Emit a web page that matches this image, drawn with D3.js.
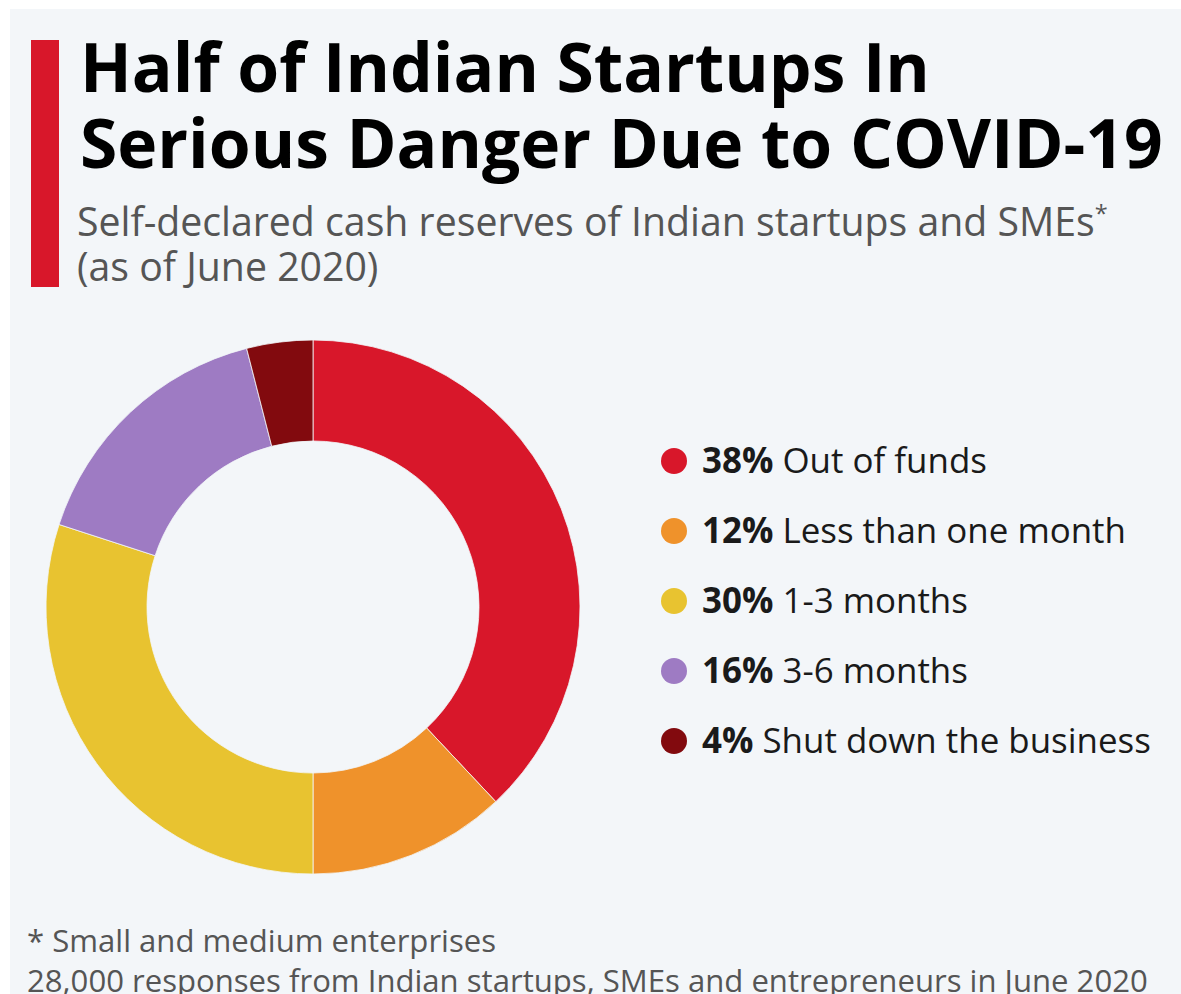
<!DOCTYPE html>
<html><head><meta charset="utf-8">
<script src="https://cdn.jsdelivr.net/npm/d3@7"></script>
<style>
html,body{margin:0;padding:0;background:#fff;}
svg text{font-family:"Open Sans",sans-serif;}
</style></head>
<body>
<svg id="chart" width="1181" height="994"></svg>
<script>
const categories = ["Out of funds","Less than one month","1-3 months","3-6 months","Shut down the business"];
const values = [38, 12, 30, 16, 4];
const colors = ["#d8172a","#ef922b","#e8c330","#9e7bc3","#820a0e"];
const titleLines = ["Half of Indian Startups In","Serious Danger Due to COVID-19"];
const subtitleLines = ["Self-declared cash reserves of Indian startups and SMEs","(as of June 2020)"];
const footerLines = ["* Small and medium enterprises","28,000 responses from Indian startups, SMEs and entrepreneurs in June 2020"];

const svg = d3.select("#chart");
svg.append("rect").attr("x",10).attr("y",9).attr("width",1171).attr("height",985).attr("fill","#f3f6f9");
svg.append("rect").attr("x",31).attr("y",40).attr("width",28).attr("height",247).attr("fill","#d8172a");

function fit(sel, target){
  const w = sel.node().getComputedTextLength();
  const fs = parseFloat(sel.attr("font-size"));
  sel.attr("font-size", fs*target/w);
}

const t1 = svg.append("text").attr("x",80).attr("y",92).attr("font-size",60).attr("font-weight",700).attr("fill","#000").text(titleLines[0]);
const t2 = svg.append("text").attr("x",80).attr("y",168).attr("font-size",60).attr("font-weight",700).attr("fill","#000").text(titleLines[1]);
fit(t2, 1083);
t1.attr("font-size", t2.attr("font-size"));

const s1 = svg.append("text").attr("x",77).attr("y",236).attr("font-size",30).attr("fill","#555").text(subtitleLines[0]);
fit(s1, 1018);
const sfs = parseFloat(s1.attr("font-size"));
s1.append("tspan").attr("font-size",sfs*0.6).attr("dy",-sfs*0.35).text("*");
svg.append("text").attr("x",77).attr("y",281).attr("font-size",sfs).attr("fill","#555").text(subtitleLines[1]);

// donut
const cx = 313, cy = 607, rOut = 267, rIn = 166;
const pie = d3.pie().sort(null).value(d=>d.v);
const arc = d3.arc().innerRadius(rIn).outerRadius(rOut);
const data = categories.map((c,i)=>({c, v: values[i], col: colors[i]}));
const g = svg.append("g").attr("transform",`translate(${cx},${cy})`);
g.selectAll("path").data(pie(data)).join("path")
  .attr("d",arc).attr("fill",d=>d.data.col)
  .attr("stroke","#f3f6f9").attr("stroke-width",0.8);

// legend
const y = d3.scalePoint().domain(categories).range([461,741]);
const lg = svg.append("g");
const texts = [];
data.forEach(d=>{
  const yy = y(d.c);
  lg.append("circle").attr("cx",674).attr("cy",yy).attr("r",13).attr("fill",d.col);
  const t = lg.append("text").attr("x",702).attr("y",yy+12).attr("font-size",30).attr("fill","#1a1a1a");
  t.append("tspan").attr("font-weight",700).text(d.v+"%");
  t.append("tspan").text(" "+d.c);
  texts.push(t);
});
const last = texts[texts.length-1];
fit(last, 449);
texts.forEach(t=>t.attr("font-size", last.attr("font-size")));

const f2 = svg.append("text").attr("x",27).attr("y",992).attr("font-size",26).attr("fill","#555").text(footerLines[1]);
fit(f2, 1121);
svg.append("text").attr("x",27).attr("y",952).attr("font-size",f2.attr("font-size")).attr("fill","#555").text(footerLines[0]);
</script>
</body></html>
